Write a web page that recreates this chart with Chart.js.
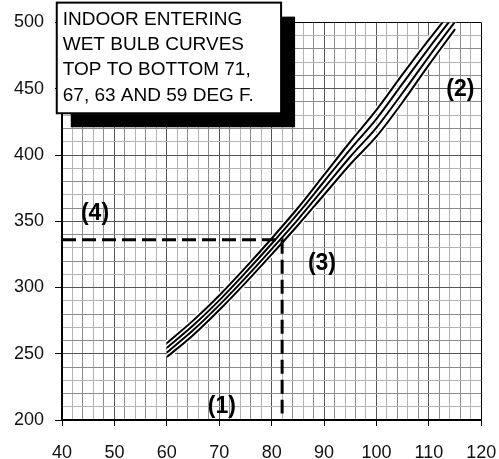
<!DOCTYPE html>
<html>
<head>
<meta charset="utf-8">
<script src="https://cdn.jsdelivr.net/npm/chart.js@4"></script>
<style>
	html, body { margin: 0; padding: 0; background: #fff; }
	#wrap { width: 499px; height: 459px; }
</style>
</head>
<body>
<div id="wrap"><canvas id="chart" width="499" height="459"></canvas></div>
<script>
// outdoor temperature (deg F) where the curves are read
var temps = [60, 65, 70, 75, 80, 85, 90, 95, 100, 105, 110, 115];
// pressure for each indoor wet bulb curve
var wb71 = [258, 275, 294, 315, 337, 360, 385, 410, 434, 461, 487, 512];
var wb67 = [254.5, 271.3, 290.3, 311.2, 333, 355.7, 380, 404.3, 427.3, 454, 480.7, 506.3];
var wb63 = [251, 267.7, 286.7, 307.3, 329, 351.3, 375, 398.7, 420.7, 447, 474.3, 500.7];
var wb59 = [247.5, 264, 283, 303.5, 325, 347, 370, 393, 414, 440, 468, 495];

// dashed reading line
var guideX = [40, 82, 82];
var guideY = [336, 336, 205];

// callout numbers
var notes = ["(1)", "(2)", "(3)", "(4)"];
var noteX = [70.5, 116, 89.6, 46.3];
var noteY = [210, 449, 318, 356];

var boxLines = [
	"INDOOR ENTERING",
	"WET BULB CURVES",
	"TOP TO BOTTOM 71,",
	"67, 63 AND 59 DEG F."
];

function toPoints(xs, ys) {
	return xs.map(function (x, i) {
		return { x: x, y: ys[i] };
	});
}

var curves = [wb71, wb67, wb63, wb59];
var datasets = [];

// white casing under each curve, then the black line on top
curves.forEach(function (c) {
	datasets.push({
		data: toPoints(temps, c),
		borderColor: "#ffffff",
		borderWidth: 5,
		pointRadius: 0,
		cubicInterpolationMode: "monotone",
		order: 3,
	});
});
curves.forEach(function (c) {
	datasets.push({
		data: toPoints(temps, c),
		borderColor: "#000000",
		borderWidth: 2,
		pointRadius: 0,
		cubicInterpolationMode: "monotone",
		order: 2,
	});
});
datasets.push({
	data: toPoints(guideX, guideY),
	borderColor: "#000000",
	borderWidth: 3,
	borderDash: [14, 6],
	pointRadius: 0,
	tension: 0,
	order: 1,
});

var FONT = "'Liberation Sans', Arial, sans-serif";

function gridX(ctx) {
	var v = ctx.tick.value;
	if (v === 120) return "#000";
	if (v % 10 === 0) return "#555";
	return v % 4 === 0 ? "#8c8c8c" : "#b4b4b4";
}

function gridY(ctx) {
	var v = ctx.tick.value;
	if (v === 500) return "#000";
	if (v % 50 === 0) return "#555";
	return v % 20 === 0 ? "#8c8c8c" : "#b4b4b4";
}

var notesPlugin = {
	id: "notes",
	afterDraw: function (chart) {
		var c = chart.ctx;
		var xs = chart.scales.x;
		var ys = chart.scales.y;

		c.save();
		c.fillStyle = "#000";
		c.font = "bold 23px " + FONT;
		c.textAlign = "center";
		c.textBaseline = "middle";
		notes.forEach(function (t, i) {
			c.fillText(t, xs.getPixelForValue(noteX[i]), ys.getPixelForValue(noteY[i]));
		});

		// legend box with a black drop shadow
		var left = xs.getPixelForValue(39);
		var right = xs.getPixelForValue(81.8);
		var top = ys.getPixelForValue(515);
		var bottom = ys.getPixelForValue(431.5);
		c.fillStyle = "#000";
		c.fillRect(left + 14, top + 14, right - left, bottom - top);
		c.fillStyle = "#fff";
		c.fillRect(left, top, right - left, bottom - top);
		c.strokeStyle = "#000";
		c.lineWidth = 2;
		c.strokeRect(left, top, right - left, bottom - top);

		c.fillStyle = "#000";
		c.font = "19px " + FONT;
		c.textAlign = "left";
		c.textBaseline = "alphabetic";
		boxLines.forEach(function (t, i) {
			c.fillText(t, left + 6, top + 22 + i * 25.3);
		});
		c.restore();
	},
};

new Chart(document.getElementById("chart"), {
	type: "line",
	data: { datasets: datasets },
	options: {
		responsive: false,
		animation: false,
		layout: { padding: { top: 22.5, right: 17.7, left: 0, bottom: 0 } },
		plugins: {
			legend: { display: false },
			tooltip: { enabled: false },
		},
		scales: {
			x: {
				type: "linear",
				min: 40,
				max: 120,
				afterFit: function (scale) {
					scale.height = 39;
					scale.paddingLeft = 0;
					scale.paddingRight = 0;
				},
				ticks: {
					stepSize: 2,
					autoSkip: false,
					maxRotation: 0,
					padding: 16,
					color: "#111",
					font: { family: FONT, size: 18 },
					callback: function (v) {
						return v % 10 === 0 ? v : "";
					},
				},
				grid: {
					color: gridX,
					lineWidth: 1,
					tickLength: 6,
					tickColor: function (ctx) {
						return ctx.tick.value % 10 === 0 ? "#000" : "rgba(0,0,0,0)";
					},
				},
				border: { color: "#000", width: 2 },
			},
			y: {
				min: 200,
				max: 500,
				afterFit: function (scale) {
					scale.width = 62;
					scale.paddingTop = 0;
					scale.paddingBottom = 0;
				},
				ticks: {
					stepSize: 10,
					autoSkip: false,
					padding: 11,
					color: "#111",
					font: { family: FONT, size: 18 },
					callback: function (v) {
						return v % 50 === 0 ? v : "";
					},
				},
				grid: {
					color: gridY,
					lineWidth: 1,
					tickLength: 7,
					tickColor: function (ctx) {
						return ctx.tick.value % 50 === 0 ? "#000" : "rgba(0,0,0,0)";
					},
				},
				border: { color: "#000", width: 2 },
			},
		},
	},
	plugins: [notesPlugin],
});
</script>
</body>
</html>
